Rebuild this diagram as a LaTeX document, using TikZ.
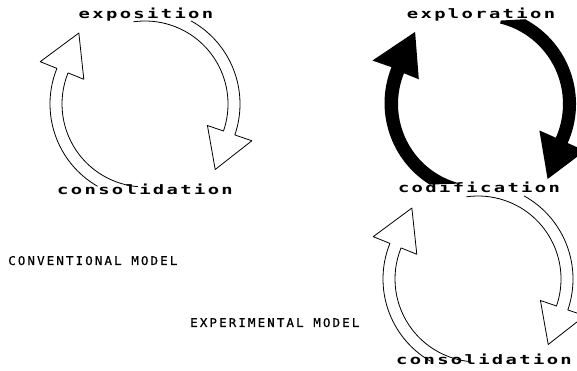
\documentclass[tikz,border=0pt]{standalone}
\usepackage{fontspec}
\newfontfamily\lowfont[FakeStretch=1.45, LetterSpace=18]{DejaVu Sans Mono}
\newfontfamily\capfont[FakeStretch=1.05, LetterSpace=17, FakeBold=0.6]{DejaVu Sans Mono}
\tikzset{
  lowlabel/.style={anchor=base, inner sep=0pt, font=\lowfont\bfseries\fontsize{13pt}{13pt}\selectfont},
  caplabel/.style={anchor=base west, inner sep=0pt, font=\capfont\fontsize{12pt}{12pt}\selectfont},
  band/.style={line width=0.8pt, line join=round},
  pics/whitecyc/.style={code={
    \draw[pic actions] (61:95) arc[start angle=61, end angle=-19, radius=95]
      -- (-19:113) -- (-43:96) -- (-19:66) -- (-19:83)
      arc[start angle=-19, end angle=98, radius=83];
    \draw[pic actions] (240:95) arc[start angle=240, end angle=158, radius=95]
      -- (158:113) -- (133:97) -- (158:66) -- (158:83)
      arc[start angle=158, end angle=265, radius=83];
  }},
  pics/blackcyc/.style={code={
    \fill[pic actions] (76:86) -- (62:96) arc[start angle=62, end angle=-24, radius=96]
      -- (-24:115) -- (-48:101) -- (-24:65) -- (-24:83)
      arc[start angle=-24, end angle=76, radius=83] -- cycle;
    \fill[pic actions] (256:82) -- (238:95) arc[start angle=238, end angle=158, radius=96]
      -- (158:116) -- (132:97) -- (158:66) -- (158:82)
      arc[start angle=158, end angle=256, radius=82] -- cycle;
  }}
}
\begin{document}
\begin{tikzpicture}[x=1pt,y=1pt]
\useasboundingbox (0,0) rectangle (577,371);
\clip (0,0) rectangle (577,371);
% left conventional cycle
\pic[band, draw=black, fill=white] at (145,267) {whitecyc};
% top right experimental (black)
\pic[fill=black] at (480,267) {blackcyc};
% bottom right experimental
\pic[band, draw=black, fill=white] at (478,92) {whitecyc};
% labels
\node[lowlabel] (expo) at (146,352) {exposition};
\node[lowlabel] (cons1) at (145,176) {consolidation};
\node[lowlabel] (explo) at (481,352) {exploration};
\node[lowlabel] (codi) at (479,178) {codification};
\node[lowlabel] (cons2) at (484,6) {consolidation};
\node[caplabel] (conv) at (8,106) {CONVENTIONAL MODEL};
\node[caplabel] (expm) at (190,44) {EXPERIMENTAL MODEL};
\end{tikzpicture}
\end{document}
